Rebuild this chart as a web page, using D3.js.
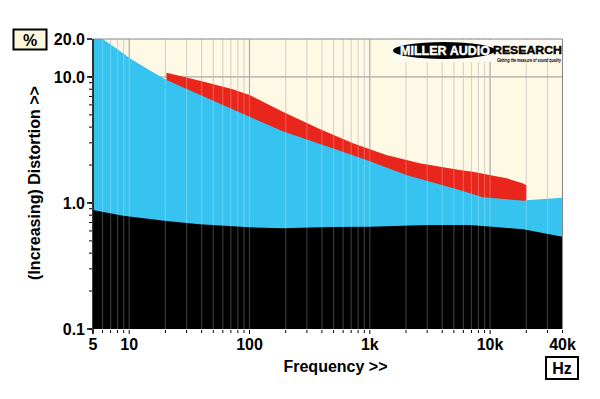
<!DOCTYPE html>
<html><head><meta charset="utf-8">
<script src="https://cdn.jsdelivr.net/npm/d3@7/dist/d3.min.js"></script>
<style>body{margin:0;background:#fff}svg{display:block}text{font-family:Arial,"Liberation Sans",sans-serif}</style>
</head><body>
<script>
// ---- data ----
const blueFreq = [5, 6, 7.8, 10.1, 15, 20.4, 100, 189, 464, 937, 2015, 5580, 8680, 19400, 20000, 40000];
const blueVal  = [20, 20, 16.9, 14.1, 11.2, 9.47, 4.84, 3.7, 2.77, 2.19, 1.67, 1.27, 1.11, 1.04, 1.05, 1.10];
const redFreq  = [20.4, 30, 45, 72.5, 100, 189, 383, 725, 1370, 2600, 5580, 7170, 13700, 18800, 20000];
const redVal   = [10.8, 9.9, 9.0, 7.98, 7.19, 5.30, 3.87, 2.98, 2.40, 2.07, 1.83, 1.77, 1.57, 1.43, 1.38];
const blackFreq = [5, 8.9, 20.4, 38.5, 100, 189, 464, 1000, 2950, 6800, 10400, 18800, 40000];
const blackVal  = [0.88, 0.793, 0.72, 0.677, 0.641, 0.629, 0.645, 0.649, 0.669, 0.669, 0.649, 0.618, 0.54];
const xTickVals = [5, 10, 100, 1000, 10000, 40000];
const xTickLabels = ["5", "10", "100", "1k", "10k", "40k"];
const yTickVals = [20, 10, 1, 0.1];
const yTickLabels = ["20.0", "10.0", "1.0", "0.1"];

const W = 600, H = 399;
const svg = d3.select("body").append("svg").attr("width", W).attr("height", H);
const x = d3.scaleLog().domain([5, 40000]).range([93, 562.5]);
const y = d3.scaleLog().domain([0.1, 20]).range([329, 39]);

const minorF = [];
for (let e = 0; e <= 4; e++) for (let n = 1; n <= 9; n++) {
  const f = n * Math.pow(10, e);
  if (f >= 5 && f <= 40000) minorF.push(f);
}
const minorY = [];
for (let e = -1; e <= 1; e++) for (let n = 1; n <= 9; n++) {
  const v = n * Math.pow(10, e);
  if (v >= 0.1 && v <= 10) minorY.push(v);
}

svg.append("rect").attr("x", x(5)).attr("y", y(20)).attr("width", x(40000) - x(5)).attr("height", y(0.1) - y(20)).attr("fill", "#fdf9e5");

const isMajor = f => Math.abs(Math.log10(f) - Math.round(Math.log10(f))) < 1e-9;
svg.append("g").selectAll("line").data(minorF).join("line")
  .attr("x1", d => x(d)).attr("x2", d => x(d)).attr("y1", y(20)).attr("y2", y(0.1))
  .attr("stroke", d => isMajor(d) ? "#aaa" : "#d8d6cc").attr("stroke-width", 1.2);
svg.append("line").attr("x1", x(5)).attr("x2", x(40000)).attr("y1", y(10)).attr("y2", y(10))
  .attr("stroke", "#aaa").attr("stroke-width", 1.2);
svg.append("line").attr("x1", x(5)).attr("x2", x(40000)).attr("y1", y(1)).attr("y2", y(1))
  .attr("stroke", "#aaa").attr("stroke-width", 1.2);

svg.append("rect").attr("x", 392).attr("y", 40).attr("width", 170).attr("height", 22).attr("fill", "#fefcf2");

const mk = (F, V) => F.map((f, i) => ({ f, v: V[i] }));
const area = d3.area().x(d => x(d.f)).y0(y(0.1)).y1(d => y(d.v));
const red = mk(redFreq, redVal), blue = mk(blueFreq, blueVal), black = mk(blackFreq, blackVal);

svg.append("path").attr("d", area(red)).attr("fill", "#e8261b");
svg.append("path").attr("d", area(blue)).attr("fill", "#36c3ef");
svg.append("path").attr("d", area(black)).attr("fill", "#000");

const clip = svg.append("clipPath").attr("id", "fills");
clip.append("path").attr("d", area(red));
clip.append("path").attr("d", area(blue));
svg.append("g").attr("clip-path", "url(#fills)").selectAll("line").data(minorF).join("line")
  .attr("x1", d => x(d)).attr("x2", d => x(d)).attr("y1", y(20)).attr("y2", y(0.1))
  .attr("stroke", "rgba(255,255,255,0.22)").attr("stroke-width", 1.2);

svg.append("line").attr("x1", x(40000)).attr("x2", x(40000)).attr("y1", y(20)).attr("y2", y(0.1)).attr("stroke", "#888");
svg.append("line").attr("x1", x(5)).attr("x2", x(40000)).attr("y1", y(20)).attr("y2", y(20)).attr("stroke", "#888");
svg.append("line").attr("x1", x(5)).attr("x2", x(5)).attr("y1", y(20)).attr("y2", 334).attr("stroke", "#000").attr("stroke-width", 1.5);

svg.append("g").selectAll("line").data(minorF).join("line")
  .attr("x1", d => x(d)).attr("x2", d => x(d)).attr("y1", 330).attr("y2", d => isMajor(d) ? 334 : 333)
  .attr("stroke", "#000").attr("stroke-width", 1);
svg.append("g").selectAll("line").data(minorY).join("line")
  .attr("x1", 89).attr("x2", 92).attr("y1", d => y(d)).attr("y2", d => y(d))
  .attr("stroke", "#000").attr("stroke-width", 1);
svg.append("g").selectAll("line").data(yTickVals).join("line")
  .attr("x1", 87).attr("x2", 92).attr("y1", d => y(d)).attr("y2", d => y(d))
  .attr("stroke", "#000").attr("stroke-width", 1.5);

svg.append("g").selectAll("text").data(xTickVals).join("text")
  .attr("x", d => x(d)).attr("y", 350).attr("text-anchor", "middle")
  .attr("font-size", 16).attr("font-weight", "bold").text((d, i) => xTickLabels[i]);
svg.append("g").selectAll("text").data(yTickVals).join("text")
  .attr("x", 85).attr("y", d => y(d) + 6).attr("text-anchor", "end")
  .attr("font-size", 16).attr("font-weight", "bold").text((d, i) => yTickLabels[i]);

svg.append("text").attr("x", 335.5).attr("y", 372).attr("text-anchor", "middle")
  .attr("font-size", 16).attr("font-weight", "bold").text("Frequency >>");
svg.append("text").attr("transform", "translate(40,183) rotate(-90)").attr("text-anchor", "middle")
  .attr("font-size", 16).attr("font-weight", "bold").text("(Increasing) Distortion >>");

svg.append("rect").attr("x", 13.5).attr("y", 29.5).attr("width", 33).attr("height", 20)
  .attr("fill", "#fdf8dc").attr("stroke", "#000").attr("stroke-width", 2);
svg.append("text").attr("x", 30).attr("y", 45.5).attr("text-anchor", "middle")
  .attr("font-size", 16).attr("font-weight", "bold").text("%");
svg.append("rect").attr("x", 546).attr("y", 357).attr("width", 32).attr("height", 22)
  .attr("fill", "#fff").attr("stroke", "#000").attr("stroke-width", 2);
svg.append("text").attr("x", 562).attr("y", 374).attr("text-anchor", "middle")
  .attr("font-size", 16).attr("font-weight", "bold").text("Hz");

svg.append("ellipse").attr("cx", 444).attr("cy", 50.5).attr("rx", 51).attr("ry", 8.5).attr("fill", "#000");
svg.append("text").attr("x", 400).attr("y", 54.5).attr("font-size", 12).attr("font-weight", "900")
  .attr("fill", "#fff").attr("stroke", "#fff").attr("stroke-width", 0.4)
  .attr("textLength", 90).attr("lengthAdjust", "spacingAndGlyphs").text("MILLER AUDIO");
svg.append("text").attr("x", 493).attr("y", 54).attr("font-size", 11).attr("font-weight", "900")
  .attr("fill", "#000").attr("stroke", "#000").attr("stroke-width", 0.4)
  .attr("textLength", 69).attr("lengthAdjust", "spacingAndGlyphs").text("RESEARCH");
svg.append("text").attr("x", 497).attr("y", 61.5).attr("font-size", 4.5).attr("font-weight", "bold").attr("font-style", "italic")
  .attr("fill", "#000").attr("textLength", 64).attr("lengthAdjust", "spacingAndGlyphs").text("Getting the measure of sound quality");
</script>
</body></html>
